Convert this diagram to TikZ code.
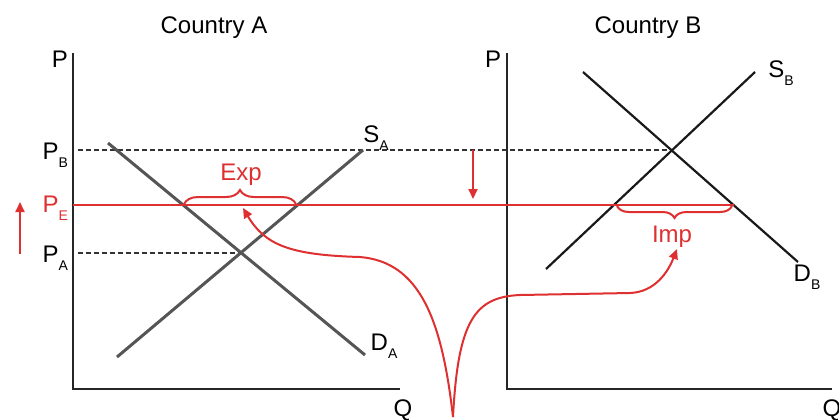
\documentclass[tikz,border=0pt]{standalone}
\usepackage{fontspec}
\setmainfont{Liberation Sans}
\usetikzlibrary{arrows.meta,decorations.pathreplacing}
\definecolor{tradered}{RGB}{222,48,48}
\definecolor{curvegray}{RGB}{85,85,85}
\newcommand{\lsub}[2]{#1\raisebox{-0.6ex}{\scriptsize #2}}

\begin{document}
\begin{tikzpicture}[x=0.5pt,y=-0.5pt,font=\fontsize{12}{14}\selectfont,
    axis/.style={line width=1.2pt,black!85},
    curveA/.style={line width=1.5pt,curvegray},
    curveB/.style={line width=1.1pt,black!90},
    priceline/.style={line width=0.9pt,black!80,dash pattern=on 2.5pt off 1.5pt},
    redline/.style={line width=1pt,tradered},
    redarrow/.style={line width=1pt,tradered,-{Triangle[length=5pt,width=4.5pt]}},
    bracered/.style={line width=1pt,tradered,decorate}]
    \useasboundingbox (0,0) rectangle (839,419);

    % Axes
    \foreach \ox/\ex/\c in {73/400/A,507/832/B} {
        \draw[axis] (\ox,53) -- (\ox,389) -- (\ex,389);
    }
    \node (PA) at (60,59) {P};
    \node (PB) at (493,59) {P};
    \node (QA) at (403,410) {Q};
    \node (QB) at (832,410) {Q};

    % Titles
    \node (titleA) at (214,28) {Country A};
    \node (titleB) at (648,28) {Country B};

    % Price levels
    \coordinate (pbL) at (78,150);
    \coordinate (eqB) at (670,150);
    \coordinate (paL) at (78,253);
    \coordinate (eqA) at (240,253);
    \draw[priceline] (pbL) -- (eqB);
    \draw[priceline] (paL) -- (eqA);
    \node[anchor=east] (lblPB) at (75,155) {\lsub{P}{B}};
    \node[anchor=east,text=tradered] (lblPE) at (75,208) {\lsub{P}{E}};
    \node[anchor=east] (lblPA) at (75,258) {\lsub{P}{A}};

    % Supply and demand, country A
    \coordinate (dA1) at (108,143); \coordinate (dA2) at (365,355);
    \coordinate (sA1) at (117,357); \coordinate (sA2) at (363,150);
    \draw[curveA] (dA1) -- (dA2);
    \draw[curveA] (sA1) -- (sA2);
    \node (SA) at (376,138) {\lsub{S}{A}};
    \node (DA) at (384,346) {\lsub{D}{A}};

    % Supply and demand, country B
    \coordinate (dB1) at (583,72); \coordinate (dB2) at (798,262);
    \coordinate (sB1) at (546,269); \coordinate (sB2) at (755,72);
    \draw[curveB] (dB1) -- (dB2);
    \draw[curveB] (sB1) -- (sB2);
    \node (SB) at (781,73) {\lsub{S}{B}};
    \node (DB) at (807,277) {\lsub{D}{B}};

    % World price
    \coordinate (peL) at (73,205);
    \coordinate (peR) at (734,205);
    \draw[redline] (peL) -- (peR);
    \coordinate (upS) at (20,254); \coordinate (upE) at (20,202);
    \draw[redarrow] (upS) -- (upE);
    \coordinate (dnS) at (473,150); \coordinate (dnE) at (473,199);
    \draw[redarrow] (dnS) -- (dnE);

    % Exports and imports
    \draw[bracered,decoration={brace,amplitude=7pt}] (184,204) -- (296,204);
    \node[text=tradered] (exp) at (241,175) {Exp};
    \draw[bracered,decoration={brace,mirror,amplitude=6pt}] (617,206) -- (732,206);
    \node[text=tradered] (imp) at (672,237) {Imp};

    % Trade link
    \coordinate (trough) at (453,417);
    \draw[redarrow] (trough) .. controls (442,320) and (420,262) .. (360,257)
        .. controls (290,255) and (265,245) .. (243,208);
    \draw[redarrow] (trough) .. controls (458,320) and (475,297) .. (520,295)
        -- (630,293) .. controls (655,292) and (668,272) .. (677,249);
\end{tikzpicture}
\end{document}
